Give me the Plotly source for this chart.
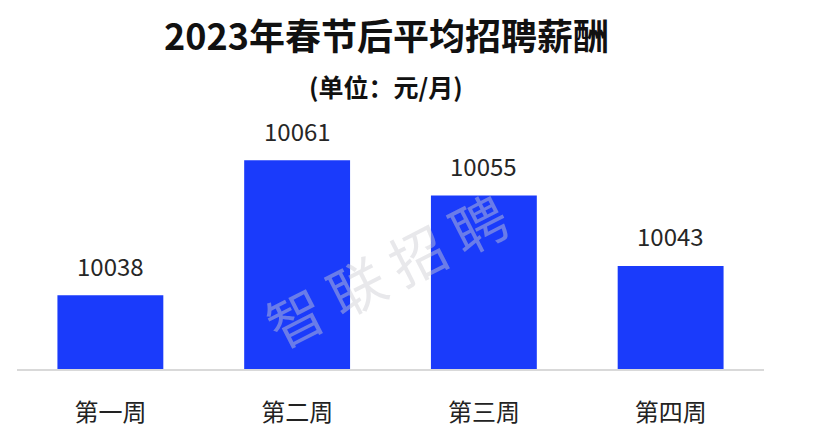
import plotly.graph_objects as go

categories = ["第一周", "第二周", "第三周", "第四周"]
salaries = [10038, 10061, 10055, 10043]
title_text = "2023年春节后平均招聘薪酬"
subtitle_text = "(单位：元/月)"
watermark_text = "智 联 招 聘"

BAR_COLOR = "#1a3bfb"
FONT = "Noto Sans CJK SC"

fig = go.Figure()
fig.add_trace(go.Bar(
    x=categories, y=salaries,
    marker=dict(color=BAR_COLOR, line=dict(width=0)),
    hoverinfo="skip",
))

annotations = []
for c, v in zip(categories, salaries):
    annotations.append(dict(
        x=c, y=v, xref="x", yref="y", text=str(v), showarrow=False,
        yanchor="middle", yshift=30,
        font=dict(family=FONT, size=24, color="#262626"),
    ))

annotations.append(dict(
    x=0.494, y=1.247, xref="paper", yref="paper", text=title_text,
    showarrow=False, xanchor="center", yanchor="middle",
    font=dict(family=FONT, size=36, color="#111111", weight="bold"),
))
annotations.append(dict(
    x=0.494, y=1.053, xref="paper", yref="paper", text=subtitle_text,
    showarrow=False, xanchor="center", yanchor="middle",
    font=dict(family=FONT, size=25, color="#111111", weight="bold"),
))
annotations.append(dict(
    x=0.494, y=0.375, xref="paper", yref="paper", text=watermark_text,
    showarrow=False, xanchor="center", yanchor="middle", textangle=-27,
    font=dict(family=FONT, size=56, color="rgba(205,205,210,0.45)"),
))

fig.update_layout(
    width=813, height=432,
    margin=dict(l=17, r=49, t=100, b=63, pad=0, autoexpand=False),
    paper_bgcolor="white", plot_bgcolor="white",
    showlegend=False,
    bargap=0.433,
    annotations=annotations,
    xaxis=dict(
        automargin=False,
        showline=True, linecolor="#d9d9d9", linewidth=2,
        showgrid=False, zeroline=False, ticks="",
        ticklabelstandoff=21,
        tickfont=dict(family=FONT, size=24, color="#222222"),
    ),
    yaxis=dict(
        automargin=False,
        range=[10025.44, 10071.26], visible=False,
        showgrid=False, zeroline=False,
    ),
)

fig.write_html(
    "out.html",
    config={"displayModeBar": False},
    post_script="document.body.style.margin='0';document.body.style.overflow='hidden';",
)
